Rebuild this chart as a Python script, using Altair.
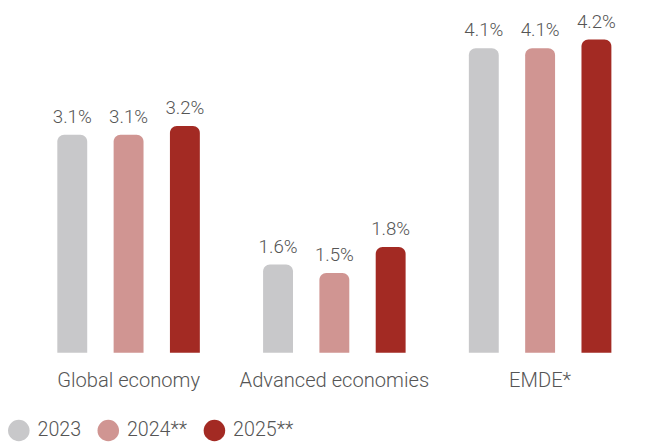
import altair as alt
import pandas as pd

categories = ["Global economy", "Advanced economies", "EMDE*"]
years = ["2023", "2024**", "2025**"]
values_2023 = [3.1, 1.6, 4.1]
values_2024 = [3.1, 1.5, 4.1]
values_2025 = [3.2, 1.8, 4.2]
colors = ["#c8c8ca", "#d09592", "#a32a23"]

rows = []
for yr, vals in zip(years, [values_2023, values_2024, values_2025]):
    for c, v in zip(categories, vals):
        rows.append({"category": c, "year": yr, "value": v})
df = pd.DataFrame(rows)

ymin, ymax = 0.577, 4.5
FONT = "Roboto"
TXT = "#555555"

base = alt.Chart(df).encode(
    x=alt.X("category:N", sort=categories, title=None,
            scale=alt.Scale(paddingInner=0.179, paddingOuter=0.0895),
            axis=alt.Axis(labelAngle=0, domain=False, ticks=False, labelPadding=18,
                          labelLimit=0,
                          labelFontSize=20.5, labelFont=FONT, labelColor=TXT, labelFontWeight=300)),
    xOffset=alt.XOffset("year:N", sort=years,
                        scale=alt.Scale(paddingInner=0.469, paddingOuter=0.2345)),
)

bars = base.mark_bar(cornerRadiusTopLeft=7, cornerRadiusTopRight=7).encode(
    y=alt.Y("value:Q", scale=alt.Scale(domain=[ymin, ymax], zero=False), axis=None),
    y2=alt.datum(ymin),
    color=alt.Color("year:N", sort=years,
                    scale=alt.Scale(domain=years, range=colors),
                    legend=alt.Legend(title=None, orient="none", direction="horizontal",
                                      legendX=-18, legendY=413,
                                      symbolType="circle", symbolSize=480,
                                      symbolStrokeWidth=0, labelFontSize=20, labelFont=FONT,
                                      labelColor=TXT, labelFontWeight=300, labelOffset=8,
                                      columnPadding=16)),
)

labels = base.transform_calculate(
    label="format(datum.value, '.1f') + '%'"
).mark_text(baseline="bottom", dy=-8, fontSize=19, font=FONT, color=TXT, fontWeight=300).encode(
    y=alt.Y("value:Q", scale=alt.Scale(domain=[ymin, ymax], zero=False)),
    text="label:N",
)

chart = (bars + labels).properties(
    width=628, height=345,
    autosize=alt.AutoSizeParams(type="none"),
    padding={"left": 18, "top": 2, "right": 0, "bottom": 90},
).configure_view(stroke=None)

chart.save("out.html", embed_options={"renderer": "svg", "actions": False})
